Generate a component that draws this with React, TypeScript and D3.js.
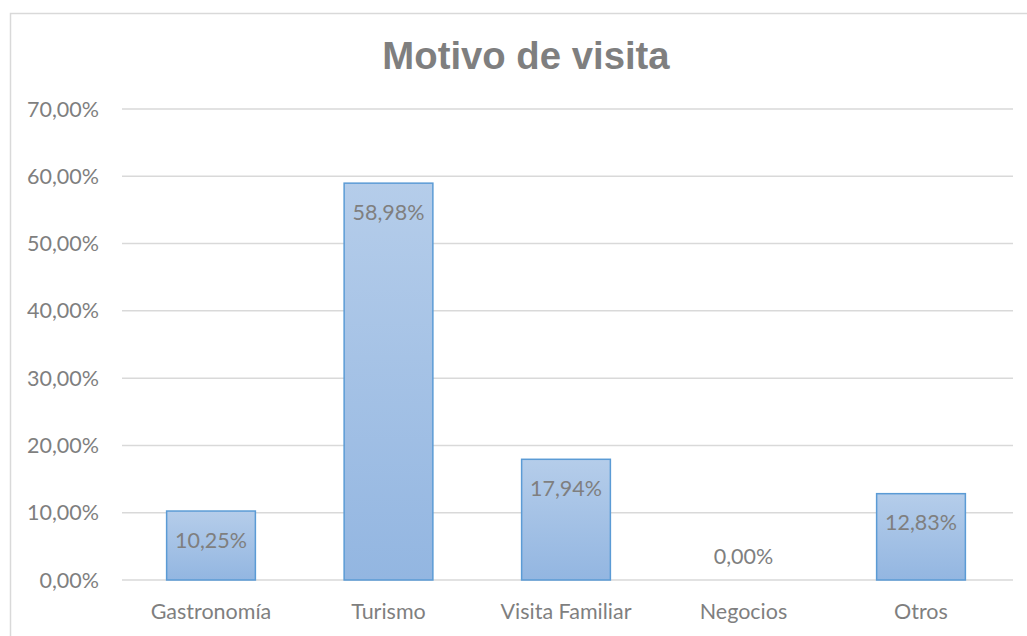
import React from "react";
import * as d3 from "d3";

const categories = ["Gastronomía", "Turismo", "Visita Familiar", "Negocios", "Otros"];
const values = [10.25, 58.98, 17.94, 0.0, 12.83];
const yTicks = [0, 10, 20, 30, 40, 50, 60, 70];
const title = "Motivo de visita";

const fmt = (v: number) => v.toFixed(2).replace(".", ",") + "%";

export default function App() {
  const W = 1027, H = 636;
  const x = d3.scaleBand<string>().domain(categories).range([122.25, 1009.75]).paddingInner(0.5).paddingOuter(0.25);
  const y = d3.scaleLinear().domain([0, 70]).range([580, 109]);
  const font = "Lato, 'Open Sans', sans-serif";
  const textColor = "#7f7f7f";
  const fs = 21.5;
  return (
    <svg width={W} height={H} style={{ position: "absolute", left: 0, top: 0, display: "block", background: "#fff" }}>
      <defs>
        <linearGradient id="barGrad" x1="0" y1="0" x2="0" y2="1">
          <stop offset="0%" stopColor="#b5cdea" />
          <stop offset="100%" stopColor="#93b6e1" />
        </linearGradient>
      </defs>
      <rect x={10.5} y={13.5} width={1030} height={640} fill="#fff" stroke="#d9d9d9" strokeWidth={1.5} />
      <text x={526} y={69} textAnchor="middle" fontFamily="'Liberation Sans', Arial, sans-serif" fontWeight="bold" fontSize={38.3} fill="#7f7f7f">{title}</text>
      {yTicks.map((t) => (
        <g key={t}>
          <line x1={122} x2={1013} y1={y(t)} y2={y(t)} stroke="#d9d9d9" strokeWidth={1.5} />
          <text x={99} y={y(t) + 7.5} textAnchor="end" fontFamily={font} fontSize={fs} fill={textColor}>{fmt(t)}</text>
        </g>
      ))}
      {categories.map((c, i) => {
        const v = values[i];
        const bx = x(c)!;
        const bw = x.bandwidth();
        const top = y(v);
        const h = y(0) - top;
        const cx = bx + bw / 2;
        return (
          <g key={c}>
            {h > 0 && (
              <rect x={bx} y={top} width={bw} height={h} fill="url(#barGrad)" stroke="#5b9bd5" strokeWidth={1.5} />
            )}
            <text x={cx} y={h > 40 ? top + 36.5 : y(0) - 16.5} textAnchor="middle" fontFamily={font} fontSize={fs} fill={textColor}>{fmt(v)}</text>
            <text x={cx} y={619} textAnchor="middle" fontFamily={font} fontSize={fs} fill={textColor}>{c}</text>
          </g>
        );
      })}
    </svg>
  );
}
